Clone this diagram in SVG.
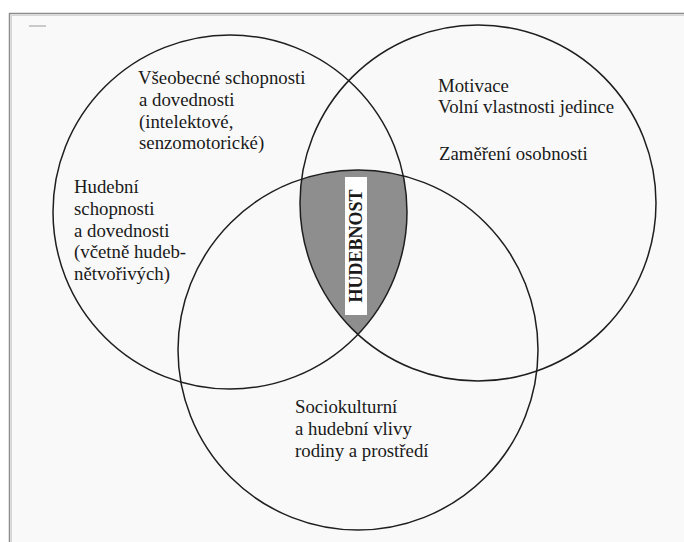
<svg xmlns="http://www.w3.org/2000/svg" width="684" height="542" viewBox="0 0 684 542">
  <style>
    .ring { fill: none; stroke: #1e1e1e; stroke-width: 1.5; }
    .lbl { font-family: "Liberation Serif", "Times New Roman", serif; font-size: 18.8px; fill: #1a1a1a; }
    .core { font-family: "Liberation Serif", "Times New Roman", serif; font-size: 18px; font-weight: bold; fill: #1a1a1a; }
  </style>
  <defs>
    <clipPath id="clipL"><circle cx="230" cy="212" r="177"/></clipPath>
    <clipPath id="clipR"><circle cx="478" cy="203" r="178"/></clipPath>
  </defs>
  <rect x="0" y="0" width="684" height="542" fill="#ffffff"/>
  <rect x="10" y="14" width="674" height="528" fill="#f9f9f9"/>
  <line x1="9" y1="13.5" x2="684" y2="13.5" stroke="#8c8c8c" stroke-width="1.5"/>
  <line x1="9.5" y1="13" x2="9.5" y2="542" stroke="#8c8c8c" stroke-width="1.5"/>
  <line x1="11" y1="15.5" x2="684" y2="15.5" stroke="#d6d6d6" stroke-width="1"/>
  <line x1="11.5" y1="15" x2="11.5" y2="542" stroke="#d6d6d6" stroke-width="1"/>
  <line x1="29" y1="26" x2="46" y2="26" stroke="#9a9a9a" stroke-width="1"/>

  <g id="hudebnost">
    <g clip-path="url(#clipL)">
      <g clip-path="url(#clipR)">
        <circle cx="358" cy="350" r="180" fill="#8e8e8e"/>
      </g>
    </g>
    <rect x="345" y="177" width="22" height="138" fill="#ffffff"/>
    <text class="core" text-anchor="middle" transform="translate(362,246) rotate(-90)">HUDEBNOST</text>
  </g>

  <g id="schopnosti">
    <circle class="ring" cx="230" cy="212" r="177"/>
    <text class="lbl" x="138" y="84">Všeobecné schopnosti</text>
    <text class="lbl" x="139" y="106">a dovednosti</text>
    <text class="lbl" x="139" y="128">(intelektové,</text>
    <text class="lbl" x="139" y="149">senzomotorické)</text>
    <text class="lbl" x="74" y="193">Hudební</text>
    <text class="lbl" x="74" y="215">schopnosti</text>
    <text class="lbl" x="74" y="237">a dovednosti</text>
    <text class="lbl" x="74" y="258">(včetně hudeb-</text>
    <text class="lbl" x="74" y="280">nětvořivých)</text>
  </g>

  <g id="osobnost">
    <circle class="ring" cx="478" cy="203" r="178"/>
    <text class="lbl" x="438" y="92">Motivace</text>
    <text class="lbl" x="438" y="113">Volní vlastnosti jedince</text>
    <text class="lbl" x="439" y="160">Zaměření osobnosti</text>
  </g>

  <g id="prostredi">
    <circle class="ring" cx="358" cy="350" r="180"/>
    <text class="lbl" x="295" y="413">Sociokulturní</text>
    <text class="lbl" x="295" y="435">a hudební vlivy</text>
    <text class="lbl" x="295" y="457">rodiny a prostředí</text>
  </g>

  <g id="connectors"></g>
</svg>
